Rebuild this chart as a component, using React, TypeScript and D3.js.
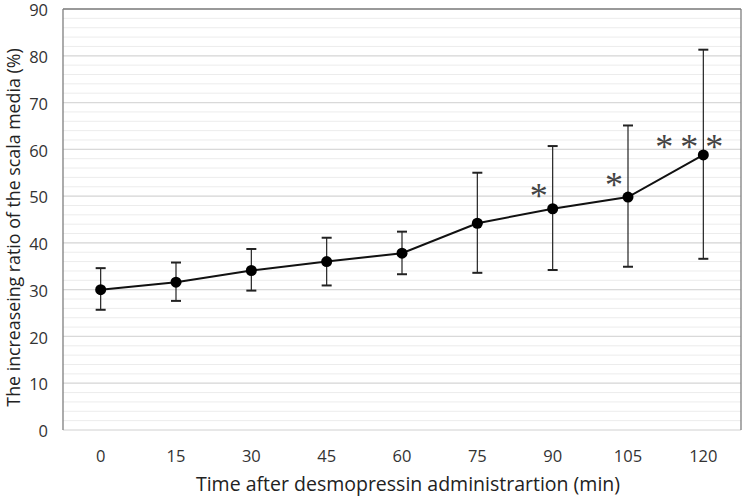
import React from "react";
import * as d3 from "d3";

const categories = ["0", "15", "30", "45", "60", "75", "90", "105", "120"];
const means = [30.0, 31.6, 34.1, 36.0, 37.8, 44.2, 47.3, 49.8, 58.8];
const upper = [34.6, 35.8, 38.7, 41.1, 42.4, 55.0, 60.7, 65.1, 81.3];
const lower = [25.7, 27.6, 29.8, 30.9, 33.3, 33.6, 34.2, 34.9, 36.6];
const stars = [0, 0, 0, 0, 0, 0, 1, 1, 3];
const yTicks = [0, 10, 20, 30, 40, 50, 60, 70, 80, 90];
const yMinor = d3.range(0, 91, 2);

const W = 748, H = 498;
const M = { left: 63, right: 7, top: 9, bottom: 68 };

export default function App() {
  const x = d3.scaleBand().domain(categories).range([M.left, W - M.right]);
  const y = d3.scaleLinear().domain([0, 90]).range([H - M.bottom, M.top]);
  const cx = (i: number) => (x(categories[i]) as number) + x.bandwidth() / 2;
  const line = d3.line<number>().x((_, i) => cx(i)).y((d) => y(d));
  const font = "'Open Sans', 'Noto Sans', sans-serif";
  const starSize = 36;
  const starMarks: { k: string; x: number; y: number }[] = [];
  stars.forEach((n, i) => {
    for (let j = 0; j < n; j++) {
      const off = (j - (n - 1) / 2) * 25;
      const centerY = y(means[i]) - (n > 1 ? 11 : 16);
      starMarks.push({ k: `${i}-${j}`, x: cx(i) - 14 + off, y: centerY + starSize * 0.43 });
    }
  });
  return (
    <svg width={W} height={H} style={{ position: "absolute", left: 0, top: 0, background: "#fff" }}>
      {yMinor.map((v) => (
        <line key={"m" + v} x1={M.left} x2={W - M.right} y1={y(v)} y2={y(v)} stroke="#ececec" strokeWidth={1} />
      ))}
      {yTicks.map((v) => (
        <line key={"g" + v} x1={M.left} x2={W - M.right} y1={y(v)} y2={y(v)} stroke="#d9d9d9" strokeWidth={1.2} />
      ))}
      <line x1={M.left} x2={M.left} y1={y(90)} y2={y(0)} stroke="#7f7f7f" strokeWidth={1.3} />
      <line x1={M.left} x2={W - M.right} y1={y(90)} y2={y(90)} stroke="#7f7f7f" strokeWidth={1.3} />
      <line x1={W - M.right} x2={W - M.right} y1={y(90)} y2={y(0)} stroke="#7f7f7f" strokeWidth={1.3} />
      {yTicks.map((v) => (
        <text key={"t" + v} x={M.left - 15} y={y(v) + 1.5} dy="0.35em" textAnchor="end" fontFamily={font} fontSize={16.5} fill="#333">
          {v}
        </text>
      ))}
      {categories.map((c, i) => (
        <text key={"c" + c} x={cx(i)} y={H - M.bottom + 26} dy="0.35em" textAnchor="middle" fontFamily={font} fontSize={16.5} fill="#333">
          {c}
        </text>
      ))}
      <text x={(M.left + W - M.right) / 2 + 6} y={H - 14} dy="0.35em" textAnchor="middle" fontFamily={font} fontSize={19.5} fill="#222">
        Time after desmopressin administrartion (min)
      </text>
      <text transform={`translate(14,${(M.top + H - M.bottom) / 2 + 8}) rotate(-90)`} textAnchor="middle" dy="0.35em" fontFamily={font} fontSize={17.8} fill="#222">
        The increaseing ratio of the scala media (%)
      </text>
      {means.map((m, i) => (
        <g key={"e" + i} stroke="#222" strokeWidth={1.2}>
          <line x1={cx(i)} x2={cx(i)} y1={y(upper[i])} y2={y(lower[i])} />
          <line x1={cx(i) - 5} x2={cx(i) + 5} y1={y(upper[i])} y2={y(upper[i])} strokeWidth={2} />
          <line x1={cx(i) - 5} x2={cx(i) + 5} y1={y(lower[i])} y2={y(lower[i])} strokeWidth={2} />
        </g>
      ))}
      <path d={line(means) || ""} fill="none" stroke="#111" strokeWidth={2} />
      {means.map((m, i) => (
        <circle key={"p" + i} cx={cx(i)} cy={y(m)} r={5.5} fill="#000" />
      ))}
      {starMarks.map((s) => (
        <text key={s.k} x={s.x} y={s.y} textAnchor="middle" fontFamily="'Liberation Serif', serif" fontSize={starSize} fill="#444">
          *
        </text>
      ))}
    </svg>
  );
}
